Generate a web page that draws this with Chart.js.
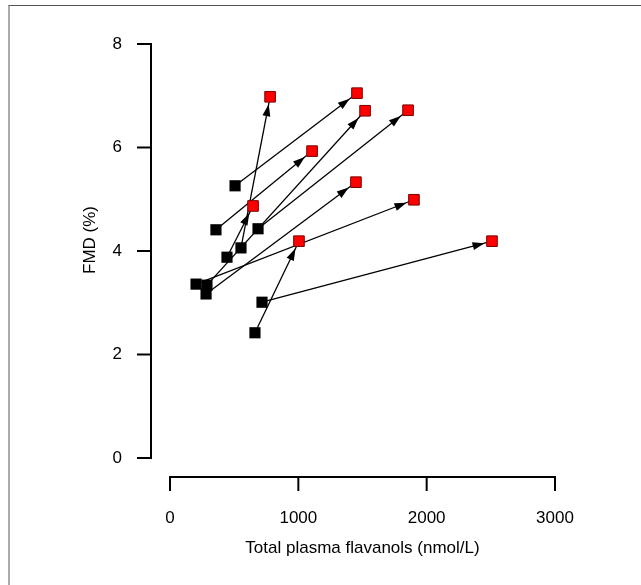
<!DOCTYPE html>
<html>
<head>
<meta charset="utf-8">
<script src="https://cdn.jsdelivr.net/npm/chart.js@4"></script>
<style>
html,body{margin:0;padding:0;background:#fff;}
#wrap{position:relative;width:641px;height:585px;overflow:hidden;}
#c{position:absolute;left:0;top:0;}
#frame{position:absolute;left:8px;top:5px;right:-2px;bottom:-2px;border-top:1px solid #555;border-left:2px solid #aaa;pointer-events:none;}
</style>
</head>
<body>
<div id="wrap"><canvas id="c" width="641" height="585"></canvas><div id="frame"></div></div>
<script>
// Follow-up (red) values, one per subject
const followX = [780, 1457, 1520, 1855, 1107, 1449, 1901, 647, 1005, 2509];
const followY = [6.98, 7.05, 6.71, 6.72, 5.93, 5.33, 4.99, 4.87, 4.19, 4.19];
// Baseline (black) values, same subject order
const baseX = [553, 507, 288, 686, 358, 281, 203, 444, 662, 717];
const baseY = [4.06, 5.26, 3.34, 4.43, 4.41, 3.17, 3.36, 3.88, 2.42, 3.01];
// Axis ticks and titles
const xTicks = [0, 1000, 2000, 3000];
const yTicks = [0, 2, 4, 6, 8];
const xTitle = 'Total plasma flavanols (nmol/L)';
const yTitle = 'FMD (%)';

const FONT = {family: "'Liberation Sans', Arial, sans-serif", size: 17};
const CLEAR = 'rgba(0,0,0,0)';

const datasets = [
  {
    label: 'Follow-up',
    data: followX.map((x, i) => ({x: x, y: followY[i]})),
    pointStyle: 'rect', pointRadius: 7.5,
    backgroundColor: '#ff0000', borderColor: '#7a0000', borderWidth: 1,
    showLine: false
  },
  {
    label: 'Baseline',
    data: baseX.map((x, i) => ({x: x, y: baseY[i]})),
    pointStyle: 'rect', pointRadius: 7.9,
    backgroundColor: '#000000', borderColor: '#000000', borderWidth: 0,
    showLine: false
  }
].concat(baseX.map((x, i) => ({
  label: 'change ' + (i + 1),
  data: [{x: x, y: baseY[i]}, {x: followX[i], y: followY[i]}],
  showLine: true, pointRadius: 0, borderColor: '#000000', borderWidth: 1.3,
  isArrow: true
})));

// Offset (Prism-style) axis lines and tick marks, placed from the scales
const offsetAxes = {
  id: 'offsetAxes',
  afterDraw(chart) {
    const ctx = chart.ctx, xs = chart.scales.x, ys = chart.scales.y, ca = chart.chartArea;
    const ax = ca.left - 19, ay = ca.bottom + 19, tl = 14;
    ctx.save();
    ctx.strokeStyle = '#000'; ctx.lineWidth = 2; ctx.lineCap = 'butt';
    const y0 = ys.getPixelForValue(yTicks[0]), y1 = ys.getPixelForValue(yTicks[yTicks.length - 1]);
    ctx.beginPath(); ctx.moveTo(ax, y0 + 1); ctx.lineTo(ax, y1 - 1); ctx.stroke();
    ys.ticks.forEach(t => { const p = ys.getPixelForValue(t.value); ctx.beginPath(); ctx.moveTo(ax - 1, p); ctx.lineTo(ax - tl, p); ctx.stroke(); });
    const x0 = xs.getPixelForValue(xTicks[0]), x1 = xs.getPixelForValue(xTicks[xTicks.length - 1]);
    ctx.beginPath(); ctx.moveTo(x0 - 1, ay); ctx.lineTo(x1 + 1, ay); ctx.stroke();
    xs.ticks.forEach(t => { const p = xs.getPixelForValue(t.value); ctx.beginPath(); ctx.moveTo(p, ay - 1); ctx.lineTo(p, ay + tl); ctx.stroke(); });
    ctx.restore();
  }
};

// Arrowheads at the follow-up end of each change line
const arrowHeads = {
  id: 'arrowHeads',
  afterDatasetDraw(chart, args) {
    const ds = chart.data.datasets[args.index];
    if (!ds.isArrow) return;
    const pts = args.meta.data;
    const a = pts[0], b = pts[1];
    const dx = b.x - a.x, dy = b.y - a.y, len = Math.hypot(dx, dy);
    const ux = dx / len, uy = dy / len;
    const half = 6.3;
    const d = half / Math.max(Math.abs(ux), Math.abs(uy)) + 1.2;
    const tx = b.x - ux * d, ty = b.y - uy * d;
    const L = 12, W = 4;
    const bx = tx - ux * L, by = ty - uy * L;
    const ctx = chart.ctx;
    ctx.save();
    ctx.fillStyle = '#000';
    ctx.beginPath();
    ctx.moveTo(tx, ty);
    ctx.lineTo(bx - uy * W, by + ux * W);
    ctx.lineTo(bx + uy * W, by - ux * W);
    ctx.closePath();
    ctx.fill();
    ctx.restore();
  }
};

new Chart(document.getElementById('c'), {
  type: 'scatter',
  data: {datasets: datasets},
  options: {
    responsive: false,
    animation: false,
    events: [],
    layout: {padding: {left: 0, top: 22, right: 86, bottom: 0}},
    plugins: {legend: {display: false}, tooltip: {enabled: false}},
    scales: {
      x: {
        type: 'linear', min: 0, max: 3000,
        afterBuildTicks: s => { s.ticks = xTicks.map(v => ({value: v})); },
        afterFit: s => { s.height = 127; },
        border: {display: false},
        grid: {display: true, drawOnChartArea: false, drawTicks: true, tickLength: 47, tickColor: CLEAR, color: CLEAR},
        ticks: {color: '#000', font: FONT, padding: 3, maxRotation: 0, callback: v => String(v)},
        title: {display: true, text: xTitle, color: '#000', font: FONT, padding: {top: 0, bottom: 26}}
      },
      y: {
        type: 'linear', min: 0, max: 8.425,
        afterBuildTicks: s => { s.ticks = yTicks.map(v => ({value: v})); },
        afterFit: s => { s.width = 170; },
        border: {display: false},
        grid: {display: true, drawOnChartArea: false, drawTicks: true, tickLength: 45, tickColor: CLEAR, color: CLEAR},
        ticks: {color: '#000', font: FONT, padding: 3, callback: v => String(v)},
        title: {display: true, text: yTitle, color: '#000', font: FONT, padding: {top: 80, bottom: 0}}
      }
    }
  },
  plugins: [offsetAxes, arrowHeads]
});
</script>
</body>
</html>
